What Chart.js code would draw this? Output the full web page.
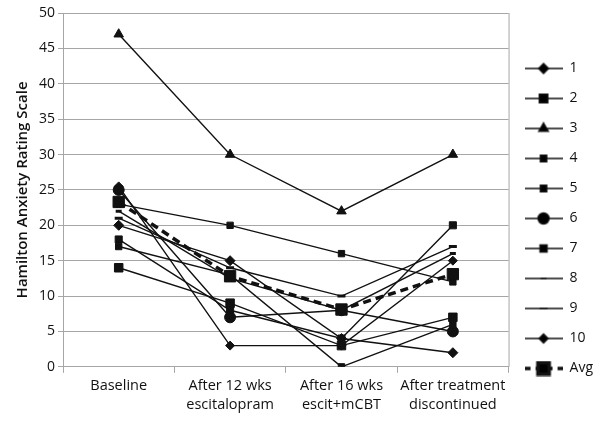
<!DOCTYPE html>
<html>
<head>
<meta charset="utf-8">
<script src="https://cdn.jsdelivr.net/npm/chart.js@4.4.1/dist/chart.umd.min.js"></script>
<style>
  html, body { margin:0; padding:0; background:#fff; }
  #wrap { width:604px; height:421px; }
</style>
</head>
<body>
<div id="wrap"><canvas id="hamChart" width="604" height="421"></canvas></div>
<script>
"use strict";

// ─── Data ─────────────────────────────────────────────────
const CATEGORIES = [
  ["Baseline"],
  ["After 12 wks", "escitalopram"],
  ["After 16 wks", "escit+mCBT"],
  ["After treatment", "discontinued"],
];
const Y_TICKS = [0, 5, 10, 15, 20, 25, 30, 35, 40, 45, 50];

const S1  = [20, 15, 4, 2];
const S2  = [14, 9, 3, 7];
const S3  = [47, 30, 22, 30];
const S4  = [23, 20, 16, 12];
const S5  = [17, 13, 0, 6];
const S6  = [25, 7, 8, 5];
const S7  = [18, 8, 4, 20];
const S8  = [22, 12.5, 8, 16];
const S9  = [21, 14, 10, 17];
const S10 = [25.5, 3, 3, 15];
const AVG = [23.3, 12.8, 8.1, 13.1];

const SERIES_LABELS = ["1","2","3","4","5","6","7","8","9","10","Avg"];

// ─── Styles ───────────────────────────────────────────────
const FONT = "'Open Sans', sans-serif";
const INK  = "#111";
const SW_W = 38;   // legend swatch width

const MARKERS = [
  { style:"rectRot",  r:5 },
  { style:"rect",     r:6 },
  { style:"triangle", r:5.5 },
  { style:"rect",     r:4.5 },
  { style:"rect",     r:4.5 },
  { style:"circle",   r:5.5 },
  { style:"rect",     r:5 },
  { style:"line",     r:3 },
  { style:"line",     r:4 },
  { style:"rectRot",  r:4.5 },
  { style:"rect",     r:8 },
];

// legend swatch: line with the marker in the middle
function swatch(m, dashed) {
  const c = document.createElement("canvas");
  c.width = SW_W; c.height = 16;
  const g = c.getContext("2d");
  g.strokeStyle = INK;
  g.lineWidth = dashed ? 3.5 : 1.4;
  if (dashed) g.setLineDash([6, 5]);
  g.beginPath(); g.moveTo(0, 8); g.lineTo(SW_W, 8); g.stroke();
  g.setLineDash([]);
  Chart.helpers.drawPoint(g, {
    pointStyle: m.style, radius: m.r, rotation: 0,
    borderWidth: m.style === "line" ? 3 : 1,
  }, SW_W / 2, 8);
  return c;
}

const allData = [S1,S2,S3,S4,S5,S6,S7,S8,S9,S10,AVG];

const datasets = allData.map((d, i) => {
  const m = MARKERS[i];
  const isAvg = i === allData.length - 1;
  return {
    label: SERIES_LABELS[i],
    data: d,
    borderColor: INK,
    backgroundColor: INK,
    borderWidth: isAvg ? 3.5 : 1.4,
    borderDash: isAvg ? [8, 5] : [],
    pointStyle: m.style,
    pointRadius: m.r,
    pointBorderWidth: m.style === "line" ? 3 : 1,
    pointBackgroundColor: INK,
    pointBorderColor: INK,
    tension: 0,
    order: isAvg ? 0 : 1,
    _swatch: swatch(m, isAvg),
  };
});

// right-side frame of the plot
const frame = {
  id: "frame",
  afterDraw(chart) {
    const { ctx, chartArea:a } = chart;
    ctx.save();
    ctx.strokeStyle = "#a6a6a6";
    ctx.lineWidth = 1;
    ctx.beginPath();
    ctx.moveTo(a.right + 0.5, a.top);
    ctx.lineTo(a.right + 0.5, a.bottom);
    ctx.stroke();
    ctx.restore();
  },
};

new Chart(document.getElementById("hamChart"), {
  type: "line",
  data: { labels: CATEGORIES, datasets },
  plugins: [frame],
  options: {
    responsive: false,
    animation: false,
    layout: { padding: { top: 13, right: 1, left: 14, bottom: 3 } },
    scales: {
      x: {
        offset: true,
        grid: { display:true, offset:true, drawOnChartArea:false, color:"#a6a6a6", tickLength:6 },
        border: { color:"#a6a6a6" },
        ticks: { color: INK, font:{ family:FONT, size:14.5, lineHeight:1.35 }, maxRotation:0, padding:3 },
      },
      y: {
        min: 0, max: 50,
        afterBuildTicks: (ax) => { ax.ticks = Y_TICKS.map(v => ({ value:v })); },
        grid: { color:"#a6a6a6", tickLength:5 },
        border: { color:"#a6a6a6" },
        ticks: { color: INK, font:{ family:FONT, size:14 }, padding:3 },
        title: { display:true, text:"Hamilton Anxiety Rating Scale", color:INK,
                 font:{ family:FONT, size:15, weight:"600" }, padding:{ top:0, bottom:4 } },
      },
    },
    plugins: {
      legend: {
        position: "right",
        title: { display:true, text:" ", font:{ size:5 }, padding:0 },
        labels: {
          usePointStyle: true,
          pointStyleWidth: SW_W,
          boxHeight: 14,
          padding: 16,
          color: INK,
          font: { family:FONT, size:14 },
          generateLabels: (chart) => chart.data.datasets.map((ds, i) => ({
            text: ds.label,
            pointStyle: ds._swatch,
            fillStyle: INK,
            strokeStyle: INK,
            lineWidth: 0,
            hidden: false,
            datasetIndex: i,
            fontColor: INK,
          })),
        },
      },
      tooltip: { enabled:false },
    },
  },
});
</script>
</body>
</html>
